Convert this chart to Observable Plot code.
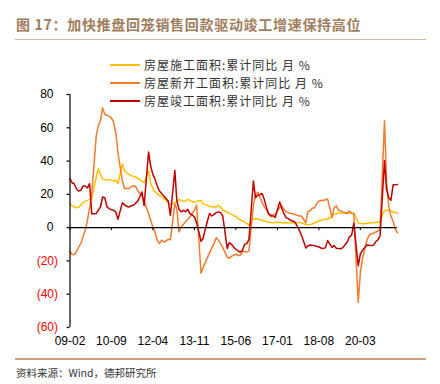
<!DOCTYPE html>
<html>
<head>
<meta charset="utf-8">
<script src="https://cdn.jsdelivr.net/npm/d3@7"></script>
<script src="https://cdn.jsdelivr.net/npm/@observablehq/plot@0.6"></script>
<style>
  html, body { margin: 0; padding: 0; background: #fff; }
  #wrap { position: relative; width: 440px; height: 384px; overflow: hidden; background: #fff; }
  #chart { position: absolute; left: 0; top: 0; }
  .abs { position: absolute; white-space: nowrap; }
  #title { left: 16px; top: 15px; font: bold 14px "Noto Sans CJK SC", sans-serif; color: #A07D5C; letter-spacing: 0.7px; line-height: 18px; }
  #rule1 { left: 15px; top: 39px; width: 411px; height: 1px; background: #CDB8A3; }
  #rule2 { left: 15px; top: 358px; width: 411px; height: 1.5px; background: #C9A47F; }
  #source { left: 16px; top: 366px; font: 10.5px "Noto Sans CJK SC", sans-serif; color: #333; line-height: 14px; }
  .lg-sw { position: absolute; left: 109.5px; width: 30px; height: 1.6px; }
  .lg-tx { position: absolute; left: 144px; font: 12px "Noto Sans CJK SC", sans-serif; color: #333; letter-spacing: 1px; line-height: 14px; }
</style>
</head>
<body>
<div id="wrap">
  <div id="chart"></div>
  <div id="title" class="abs">图 17：加快推盘回笼销售回款驱动竣工增速保持高位</div>
  <div id="rule1" class="abs"></div>
  <div id="legend"></div>
  <div id="rule2" class="abs"></div>
  <div id="source" class="abs">资料来源：Wind，德邦研究所</div>
</div>
<script>
// Monthly series, 2009-02 .. 2021-08 (January values not published -> null)
const startYear = 2009, startMonth = 1; // Feb 2009 (0-based month)
const seriesNames = ["房屋施工面积:累计同比 月 %", "房屋新开工面积:累计同比 月 %", "房屋竣工面积:累计同比 月 %"];
const seriesColors = ["#FFC000", "#F47A2C", "#C00000"];

const construction = [
  14.4, 13.4, 12.4, 12.0, 12.2, 13.4, 15.0, 15.8, 16.4, 17.0, 17.5, null,
  30.0, 35.4, 32.0, 29.4, 28.8, 28.6, 29.0, 28.4, 28.0, 28.6, 26.5, null,
  38.4, 34.4, 33.0, 32.0, 31.4, 30.8, 30.4, 29.8, 29.0, 27.8, 27.0, null,
  34.0, 27.0, 23.4, 21.8, 20.4, 19.4, 18.4, 17.4, 16.4, 15.0, 13.8, null,
  15.0, 15.8, 17.0, 16.4, 15.8, 16.0, 17.0, 16.4, 15.4, 15.4, 15.8, null,
  16.3, 14.4, 13.8, 13.4, 12.8, 12.4, 12.4, 12.4, 13.4, 12.2, 10.6, null,
  9.4, 8.6, 8.0, 7.4, 6.6, 5.6, 4.8, 4.0, 3.2, 2.6, 1.5, null,
  5.4, 5.4, 5.2, 4.8, 4.4, 4.0, 3.6, 3.3, 3.1, 3.0, 3.2, null,
  3.1, 3.0, 3.0, 3.1, 3.0, 3.0, 3.1, 3.0, 3.0, 3.0, 3.0, null,
  1.8, 1.8, 1.9, 2.2, 2.8, 3.5, 4.0, 4.4, 4.8, 5.0, 5.2, null,
  6.8, 8.2, 8.4, 8.8, 8.8, 8.8, 8.8, 8.7, 9.0, 8.7, 8.7, null,
  2.9, 2.5, 2.4, 2.4, 2.6, 2.8, 3.0, 3.0, 3.2, 3.2, 3.7, null,
  10.4, 10.4, 10.4, 10.0, 9.4, 9.2, 8.6
];

const newStarts = [
  -14.0, -16.2, -16.2, -14.6, -11.6, -9.6, -5.6, -1.6, 4.0, 12.0, 20.0, null,
  55.0, 61.0, 64.0, 72.0, 68.0, 67.5, 67.0, 66.0, 63.5, 57.0, 45.0, null,
  28.0, 23.5, 23.5, 23.5, 24.5, 25.0, 25.0, 22.4, 20.5, 19.0, 16.2, null,
  8.4, 4.4, 0.4, -2.6, -7.6, -9.6, -7.6, -8.6, -8.0, -7.0, -7.3, null,
  14.4, 11.0, -2.6, 0.4, 2.0, 3.5, 5.0, 6.5, 8.5, 10.5, 13.5, null,
  -27.4, -24.0, -21.0, -18.0, -15.0, -12.0, -9.6, -6.0, -7.5, -9.6, -12.0, null,
  -17.7, -18.4, -17.3, -16.6, -15.8, -16.8, -16.6, -14.5, -14.5, -14.6, -14.0, null,
  13.7, 19.2, 21.4, 18.5, 14.9, 12.7, 10.5, 8.0, 6.5, 7.6, 8.1, null,
  12.0, 13.0, 11.0, 9.5, 9.0, 8.6, 8.4, 8.0, 7.4, 7.0, 7.0, null,
  2.9, 9.7, 10.1, 11.8, 11.8, 14.4, 15.9, 16.4, 16.3, 16.8, 17.2, null,
  6.0, 11.9, 13.1, 10.5, 10.1, 9.5, 8.9, 8.6, 10.0, 8.6, 8.5, null,
  -44.9, -27.2, -18.4, -12.8, -7.6, -4.5, -3.6, -3.4, -2.6, -2.0, -1.2, null,
  64.3, 28.2, 12.8, 6.9, 3.8, -0.9, -3.2
];

const completions = [
  29.4, 27.0, 26.4, 23.4, 22.0, 22.4, 25.0, 25.0, 23.8, 26.4, 8.4, null,
  8.4, 10.4, 12.4, 18.4, 18.0, 12.4, 11.4, 10.8, 10.4, 9.4, 5.0, null,
  15.0, 13.8, 12.8, 12.4, 13.0, 13.4, 14.5, 15.8, 18.4, 21.4, 13.3, null,
  45.4, 37.0, 32.0, 29.0, 25.0, 22.0, 20.5, 19.0, 17.5, 16.0, 7.3, null,
  34.4, 16.0, 11.0, 9.5, 10.4, 9.6, 11.0, 8.4, 7.6, 6.5, 3.0, null,
  -8.2, -6.5, -1.0, 4.0, 8.5, 7.0, 8.0, 9.0, 9.5, 9.0, 7.0, null,
  -12.6, -9.0, -10.0, -11.6, -13.0, -14.0, -14.6, -13.6, -10.0, -9.6, -7.0, null,
  28.0, 18.0, 19.4, 19.8, 20.5, 17.0, 12.0, 8.4, 7.4, 7.0, 6.1, null,
  15.4, 12.0, 8.4, 6.0, 5.4, 4.4, 4.0, 3.4, 1.0, -1.6, -4.4, null,
  -12.2, -11.0, -10.4, -10.6, -10.8, -11.2, -11.6, -12.2, -12.6, -12.0, -7.8, null,
  -11.9, -10.8, -12.4, -12.5, -12.7, -12.0, -10.3, -8.6, -5.5, -4.5, 2.6, null,
  -22.9, -15.8, -13.6, -12.0, -10.5, -10.6, -10.8, -10.5, -8.5, -7.3, -4.9, null,
  40.4, 22.9, 17.9, 16.4, 25.7, 25.7, 26.0
];

const xTickLabels = ["09-02", "10-09", "12-04", "13-11", "15-06", "17-01", "18-08", "20-03"];
const yTicks = [-60, -40, -20, 0, 20, 40, 60, 80];

const monthDate = (i) => new Date(Date.UTC(startYear, startMonth + i, 1));
const toRows = (arr) => arr.map((v, i) => ({date: monthDate(i), value: v})).filter(d => d.value != null);
const allSeries = [construction, newStarts, completions];
const xTicks = xTickLabels.map(s => new Date(Date.UTC(2000 + +s.slice(0, 2), +s.slice(3) - 1, 1)));
const xDomain = [monthDate(0), monthDate(construction.length - 1)];
const fmtX = d3.utcFormat("%y-%m");

const plot = Plot.plot({
  width: 440,
  height: 384,
  marginTop: 94,
  marginBottom: 57,
  marginLeft: 69.5,
  marginRight: 43,
  style: {fontFamily: "'Liberation Sans', Arial, sans-serif", fontSize: "12px", background: "transparent", color: "#000"},
  x: {type: "utc", domain: xDomain},
  y: {domain: [-60, 80]},
  marks: [
    Plot.axisY({ticks: yTicks, tickSize: 3, tickFormat: () => "", label: null, strokeWidth: 1.2}),
    Plot.text(yTicks.filter(d => d >= 0), {y: d => d, frameAnchor: "left", textAnchor: "end", dx: -16.5, text: d => String(d), fill: "#000"}),
    Plot.text(yTicks.filter(d => d < 0), {y: d => d, frameAnchor: "left", textAnchor: "end", dx: -12, text: d => `(${-d})`, fill: "#FF0000"}),
    Plot.axisX({ticks: xTicks, tickSize: 0, tickPadding: 9, tickFormat: fmtX, label: null}),
    Plot.line(toRows(construction), {x: "date", y: "value", stroke: seriesColors[0], strokeWidth: 1.5}),
    Plot.line(toRows(newStarts), {x: "date", y: "value", stroke: seriesColors[1], strokeWidth: 1.5}),
    Plot.line(toRows(completions), {x: "date", y: "value", stroke: seriesColors[2], strokeWidth: 1.5}),
    Plot.ruleY([0], {stroke: "#000", strokeWidth: 1.2}),
    Plot.ruleX([xDomain[0]], {stroke: "#000", strokeWidth: 1.2}),
    Plot.ruleX(xTicks, {x: d => d, y1: 0, y2: 0, insetBottom: -3, stroke: "#000", strokeWidth: 1})
  ]
});
document.getElementById("chart").appendChild(plot);

// Legend
const legend = document.getElementById("legend");
const rowCenters = [65, 83, 101];
seriesNames.forEach((name, i) => {
  const sw = document.createElement("div");
  sw.className = "lg-sw";
  sw.style.top = (rowCenters[i] - 0.8) + "px";
  sw.style.background = seriesColors[i];
  legend.appendChild(sw);
  const tx = document.createElement("div");
  tx.className = "lg-tx";
  tx.style.top = (rowCenters[i] - 7.5) + "px";
  tx.textContent = name;
  legend.appendChild(tx);
});
</script>
</body>
</html>
